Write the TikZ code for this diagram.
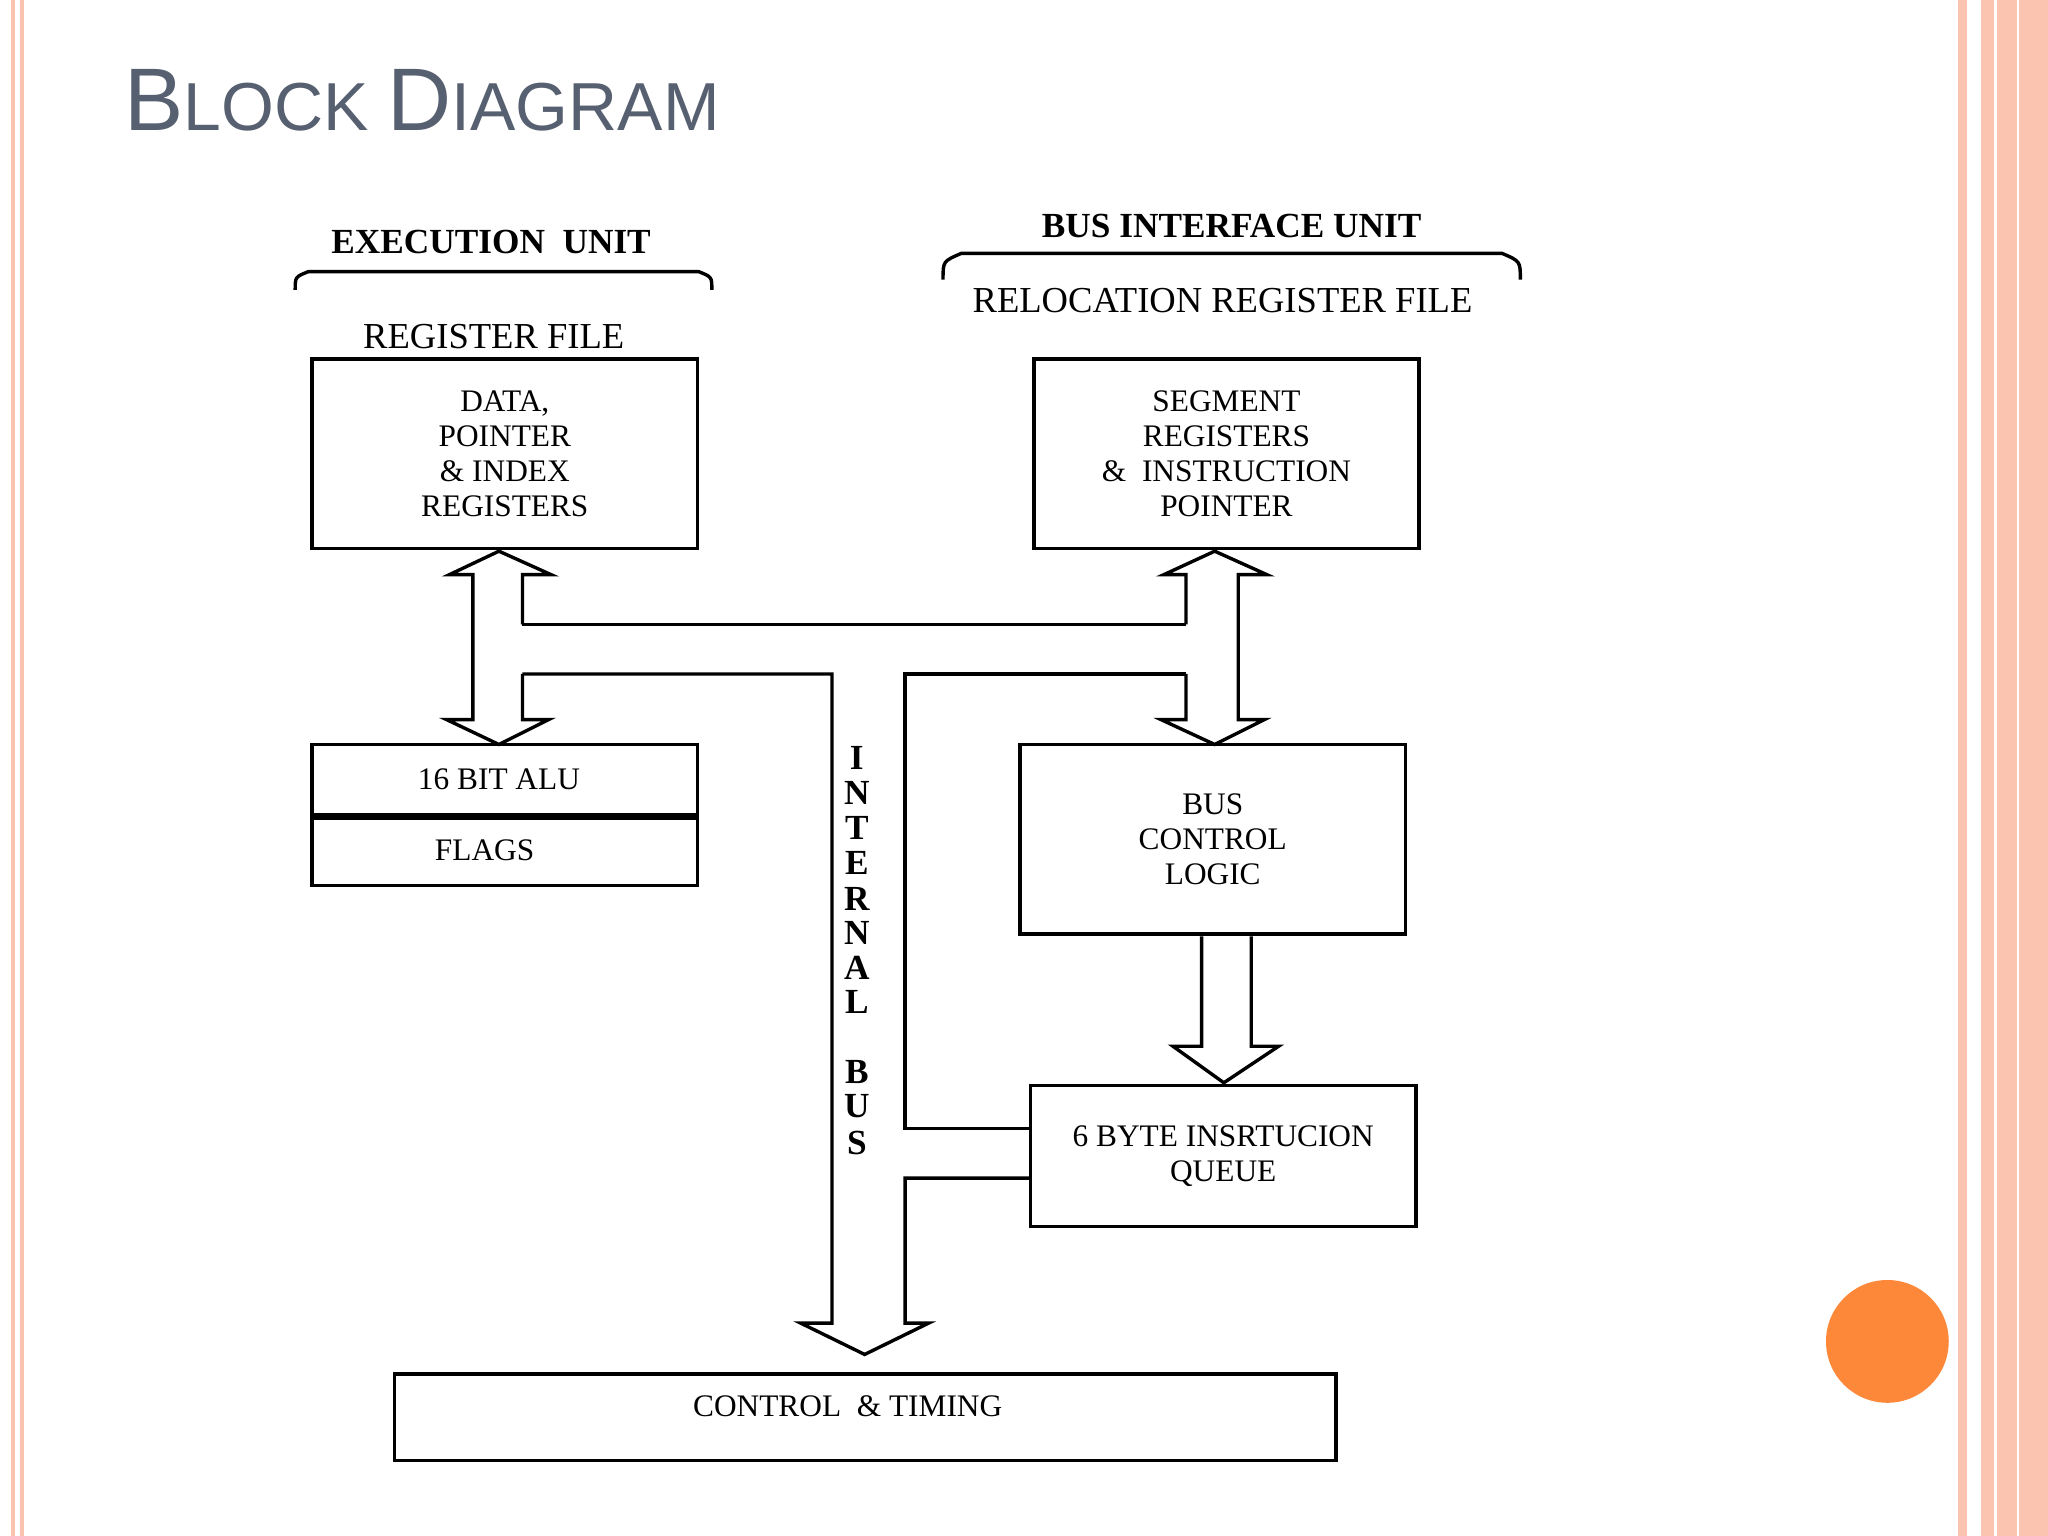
\documentclass[tikz,border=0pt]{standalone}
\usepackage{fontspec}
\setmainfont{Liberation Serif}
\newfontfamily\titlefont{Liberation Sans}
\definecolor{titlegray}{RGB}{87,96,112}
\definecolor{salmon}{RGB}{250,196,176}
\definecolor{dotorange}{RGB}{253,136,58}
\tikzset{
  blk/.style={draw,line width=1.3pt,minimum width=295\unitlen,inner sep=0pt,align=center,font=\fontsize{12}{13.5}\selectfont},
  lbl/.style={inner sep=0pt,font=\fontsize{12}{13.5}\selectfont},
  hdr/.style={inner sep=0pt,font=\bfseries\fontsize{13.5}{15}\selectfont},
  wire/.style={line width=1.3pt},
}
\newlength\unitlen \setlength\unitlen{0.5pt}
\begin{document}
\begin{tikzpicture}[x=0.5pt,y=-0.5pt]
\useasboundingbox[fill=white] (0,0) rectangle (1568,1176);
% slide frame
\draw[salmon,line width=1.5pt] (10,0) -- (10,1176) (17,0) -- (17,1176);
\fill[salmon] (1499,0) rectangle (1506,1176);
\fill[salmon] (1517,0) rectangle (1568,1176);
\draw[white,line width=1pt] (1528,0) -- (1528,1176) (1545,0) -- (1545,1176);
\fill[dotorange] (1445,1027) circle (47);
% title
\node[anchor=base west,inner sep=0pt,text=titlegray,font=\titlefont] (title) at (95,100)
  {\fontsize{34}{34}\selectfont B\fontsize{26}{26}\selectfont LOCK \fontsize{34}{34}\selectfont D\fontsize{26}{26}\selectfont IAGRAM};
% headings and braces
\node[hdr] (eu) at (376,185) {EXECUTION\ \ UNIT};
\draw[wire] (226,222) .. controls (226,212) .. (236,208) -- (535,208) .. controls (545,212) .. (545,222);
\node[lbl,font=\fontsize{14}{14}\selectfont] (rf) at (378,258) {REGISTER FILE};
\node[hdr] (biu) at (943,173) {BUS INTERFACE UNIT};
\draw[wire] (722,214) .. controls (722,200) .. (736,194) -- (1150,194) .. controls (1164,200) .. (1164,214);
\node[lbl,font=\fontsize{14}{14}\selectfont] (rrf) at (936,230) {RELOCATION REGISTER FILE};
% boxes
\node[blk,minimum height=145\unitlen] (data) at (386.5,347.5) {\raisebox{0pt}{}DATA,\\POINTER\\\& INDEX\\REGISTERS};
\node[blk,minimum height=145\unitlen] (seg) at (939,347.5) {SEGMENT\\REGISTERS\\\&\ \ INSTRUCTION\\POINTER};
\node[blk,minimum height=108\unitlen] (alu) at (386.5,624) {};
\draw[line width=2.5pt] (alu.west |- 0,625) -- (alu.east |- 0,625);
\node[lbl] (alut) at (382,597) {16 BIT ALU};
\node[lbl] (flags) at (371,651) {FLAGS};
\node[blk,minimum height=145\unitlen] (bcl) at (928.5,642.5) {BUS\\CONTROL\\LOGIC};
\node[blk,minimum height=108\unitlen] (q) at (936.5,885) {6 BYTE INSRTUCION\\QUEUE};
\node[blk,minimum width=721\unitlen,minimum height=66\unitlen] (ct) at (662.5,1085) {};
\node[lbl] (ctt) at (649,1077) {CONTROL\ \ \& TIMING};
% left double arrow
\draw[wire] (400,478) -- (400,440) -- (422,440) -- (382,422) -- (344,440) -- (362,440) -- (362,551)
  -- (342,551) -- (382,570) -- (420,551) -- (400,551) -- (400,516);
% right double arrow
\draw[wire] (908,478) -- (908,440) -- (891,440) -- (930,422) -- (970,440) -- (948,440) -- (948,551)
  -- (968,551) -- (930,570) -- (889,551) -- (908,551) -- (908,516);
% internal bus
\draw[wire] (400,478) -- (908,478);
\draw[wire] (400,516) -- (637,516) -- (637,1013) -- (613,1013) -- (662,1037) -- (711,1013) -- (693,1013)
  -- (693,902) -- (q.west |- 0,902);
\draw[wire] (908,516) -- (693,516) -- (693,864) -- (q.west |- 0,864);
% bus control to queue
\draw[wire] (920,717) -- (920,801) -- (898,801) -- (937,829) -- (979,801) -- (958,801) -- (958,717);
% vertical label
\foreach \c/\y in {I/580,N/607,T/634,E/661,R/688,N/714,A/741,L/767,B/821,U/847,S/875}
  \node[hdr] at (656,\y) {\c};
\end{tikzpicture}
\end{document}
